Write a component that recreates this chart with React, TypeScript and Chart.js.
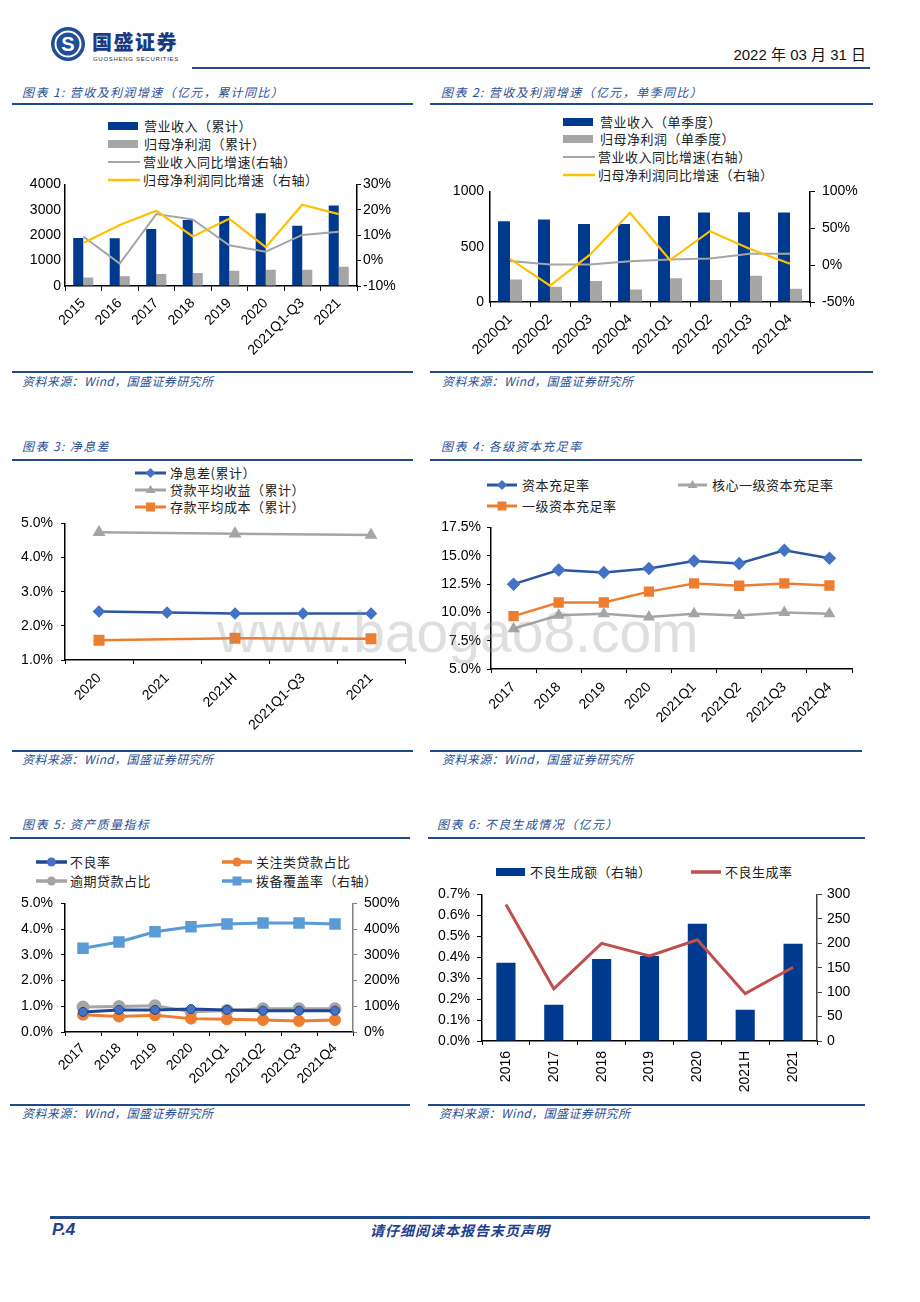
import React, { useEffect, useRef } from 'react';
import { Chart, registerables } from 'chart.js';

Chart.register(...registerables);

// ---------------- Data ----------------
const c1Categories = ['2015', '2016', '2017', '2018', '2019', '2020', '2021Q1-Q3', '2021'];
const c1Names = ['营业收入（累计）', '归母净利润（累计）', '营业收入同比增速(右轴）', '归母净利润同比增速（右轴）'];
const c1Revenue = [1885, 1880, 2245, 2595, 2755, 2860, 2372, 3167];
const c1Profit = [333, 385, 474, 513, 603, 641, 641, 756];
const c1RevenueGrowth = [9.5, -1.2, 18.3, 16.2, 6.0, 3.5, 10.1, 11.4];
const c1ProfitGrowth = [6.9, 14.0, 19.6, 9.5, 16.5, 5.3, 22.0, 18.3];

const c2Categories = ['2020Q1', '2020Q2', '2020Q3', '2020Q4', '2021Q1', '2021Q2', '2021Q3', '2021Q4'];
const c2Names = ['营业收入（单季度）', '归母净利润（单季度）', '营业收入同比增速(右轴）', '归母净利润同比增速（右轴）'];
const c2Revenue = [729, 746, 706, 706, 777, 809, 811, 809];
const c2Profit = [203, 137, 191, 114, 214, 200, 237, 120];
const c2RevenueGrowth = [5.6, 0.9, 0.9, 5.1, 7.7, 9.0, 15.4, 15.4];
const c2ProfitGrowth = [8.6, -27.9, 14.1, 71.0, 6.9, 46.0, 22.0, 2.0];

const c3Categories = ['2020', '2021', '2021H', '2021Q1-Q3', '2021'];
const c3Names = ['净息差(累计）', '贷款平均收益（累计）', '存款平均成本（累计）'];
const c3Nim = [2.42, 2.39, 2.36, 2.36, 2.36];
const c3LoanYield = [4.74, null, 4.70, null, 4.66];
const c3DepositCost = [1.58, null, 1.64, null, 1.62];

const c4Categories = ['2017', '2018', '2019', '2020', '2021Q1', '2021Q2', '2021Q3', '2021Q4'];
const c4Names = ['资本充足率', '核心一级资本充足率', '一级资本充足率'];
const c4Car = [12.49, 13.74, 13.51, 13.88, 14.54, 14.31, 15.48, 14.77];
const c4CoreTier1 = [8.56, 9.75, 9.87, 9.58, 9.87, 9.73, 9.98, 9.87];
const c4Tier1 = [9.67, 10.87, 10.87, 11.83, 12.55, 12.35, 12.55, 12.37];

const c5Categories = ['2017', '2018', '2019', '2020', '2021Q1', '2021Q2', '2021Q3', '2021Q4'];
const c5Names = ['不良率', '关注类贷款占比', '逾期贷款占比', '拨备覆盖率（右轴）'];
const c5Npl = [0.78, 0.86, 0.86, 0.89, 0.86, 0.83, 0.83, 0.83];
const c5SpecialMention = [0.67, 0.60, 0.65, 0.52, 0.50, 0.47, 0.43, 0.47];
const c5Overdue = [0.97, 0.99, 1.02, 0.79, 0.84, 0.90, 0.90, 0.90];
const c5Coverage = [326, 350, 390, 409, 420, 424, 424, 420];

const c6Categories = ['2016', '2017', '2018', '2019', '2020', '2021H', '2021'];
const c6Names = ['不良生成额（右轴）', '不良生成率'];
const c6Amount = [160, 74, 168, 174, 240, 64, 199];
const c6Rate = [0.652, 0.249, 0.466, 0.406, 0.483, 0.226, 0.352];

const chartTitles = [
  '图表 1: 营收及利润增速（亿元，累计同比）',
  '图表 2: 营收及利润增速（亿元，单季同比）',
  '图表 3: 净息差',
  '图表 4: 各级资本充足率',
  '图表 5: 资产质量指标',
  '图表 6: 不良生成情况（亿元）',
];
const sourceText = '资料来源：Wind，国盛证券研究所';

// ---------------- Styles ----------------
const NUM_FONT = '"Liberation Sans", Arial, Helvetica, sans-serif';
const CJK_FONT = '"Noto Sans CJK SC", "Noto Sans", sans-serif';
const NAVY = '#003A8F';
const GRAY = '#A6A6A6';
const YELLOW = '#FFC000';
const ORANGE = '#ED7D31';
const LIGHTBLUE = '#5B9BD5';
const RED = '#C0504D';
const MIDBLUE = '#4472C4';
const LINEBLUE = '#2A55A3';
const TITLE_BLUE = '#2B4F93';
const RULE_BLUE = '#1F4A8C';

const tickFont = { family: NUM_FONT, size: 14 };
const plain = (v: any) => `${v}`;
const pct0 = (v: any) => `${v}%`;
const pct1 = (v: any) => `${Number(v).toFixed(1)}%`;

function xScale(height: number, rotation: number, tickLen = 5, pad = 4) {
  return {
    type: 'category',
    offset: true,
    grid: { display: true, drawOnChartArea: false, drawTicks: true, tickLength: tickLen, color: '#000', offset: true },
    border: { display: true, color: '#000', width: 1.5 },
    ticks: { color: '#000', font: tickFont, minRotation: rotation, maxRotation: rotation, autoSkip: false, padding: pad },
    afterFit: (s: any) => { s.height = height; },
  };
}

function yScale(position: string, width: number, min: number, max: number, step: number, fmt: (v: any) => string, tickLen: number, pad: number, axisColor = '#000') {
  return {
    type: 'linear',
    position,
    min,
    max,
    grid: { display: true, drawOnChartArea: false, drawTicks: tickLen > 0, tickLength: tickLen, color: axisColor },
    border: { display: true, color: axisColor, width: 1.5 },
    ticks: { stepSize: step, color: '#000', font: tickFont, padding: pad, callback: fmt },
    afterFit: (s: any) => { s.width = width; },
  };
}

function baseOptions(padding: any, scales: any) {
  return {
    responsive: true,
    maintainAspectRatio: false,
    animation: false,
    events: [],
    layout: { padding },
    plugins: { legend: { display: false }, tooltip: { enabled: false } },
    scales,
  };
}

// ---------------- Components ----------------
function ChartBox({ left, top, width, height, config }: { left: number; top: number; width: number; height: number; config: () => any }) {
  const ref = useRef<HTMLCanvasElement | null>(null);
  useEffect(() => {
    if (!ref.current) return;
    const chart = new Chart(ref.current, config());
    return () => chart.destroy();
  }, []);
  return (
    <div style={{ position: 'absolute', left, top, width, height }}>
      <canvas ref={ref} />
    </div>
  );
}

type Marker = 'none' | 'diamond' | 'triangle' | 'square' | 'circle';

function Swatch({ x1, x2, y, kind, color, lw = 2.5, marker = 'none', mColor = '#000', mSize = 5 }: { x1: number; x2: number; y: number; kind: 'bar' | 'line'; color: string; lw?: number; marker?: Marker; mColor?: string; mSize?: number }) {
  const w = x2 - x1;
  const h = 16;
  const cx = w / 2;
  const cy = h / 2;
  let m: any = null;
  if (marker === 'diamond') m = <polygon points={`${cx - mSize},${cy} ${cx},${cy - mSize} ${cx + mSize},${cy} ${cx},${cy + mSize}`} fill={mColor} />;
  if (marker === 'triangle') m = <polygon points={`${cx - mSize},${cy + mSize * 0.6} ${cx + mSize},${cy + mSize * 0.6} ${cx},${cy - mSize}`} fill={mColor} />;
  if (marker === 'square') m = <rect x={cx - mSize} y={cy - mSize} width={mSize * 2} height={mSize * 2} fill={mColor} />;
  if (marker === 'circle') m = <circle cx={cx} cy={cy} r={mSize} fill={mColor} />;
  return (
    <svg style={{ position: 'absolute', left: x1, top: y - h / 2, overflow: 'visible' }} width={w} height={h}>
      {kind === 'bar' ? <rect x={0} y={cy - 4} width={w} height={8} fill={color} /> : <line x1={0} y1={cy} x2={w} y2={cy} stroke={color} strokeWidth={lw} />}
      {m}
    </svg>
  );
}

function LegendText({ x, y, text }: { x: number; y: number; text: string }) {
  return (
    <div style={{ position: 'absolute', left: x, top: y - 9, height: 18, lineHeight: '18px', fontSize: 13, letterSpacing: 0.5, color: '#222', whiteSpace: 'nowrap', fontFamily: CJK_FONT }}>
      {text}
    </div>
  );
}

function Rule({ x1, x2, y, t = 2 }: { x1: number; x2: number; y: number; t?: number }) {
  return <div style={{ position: 'absolute', left: x1, top: y - t / 2, width: x2 - x1, height: t, background: RULE_BLUE }} />;
}

function SectionTitle({ x, y, text }: { x: number; y: number; text: string }) {
  return (
    <div style={{ position: 'absolute', left: x, top: y - 8, height: 16, lineHeight: '16px', fontSize: 12, letterSpacing: 1.4, fontStyle: 'italic', color: TITLE_BLUE, whiteSpace: 'nowrap', fontFamily: CJK_FONT }}>
      {text}
    </div>
  );
}

function Source({ x, y }: { x: number; y: number }) {
  return (
    <div style={{ position: 'absolute', left: x, top: y - 8, height: 16, lineHeight: '16px', fontSize: 12, letterSpacing: 0.4, fontStyle: 'italic', color: TITLE_BLUE, whiteSpace: 'nowrap', fontFamily: CJK_FONT }}>
      {sourceText}
    </div>
  );
}

// ---------------- Chart configs ----------------
const chart1 = () => ({
  type: 'bar',
  data: {
    labels: c1Categories,
    datasets: [
      { type: 'bar', label: c1Names[0], data: c1Revenue, backgroundColor: NAVY, yAxisID: 'y', order: 2, categoryPercentage: 0.55, barPercentage: 1 },
      { type: 'bar', label: c1Names[1], data: c1Profit, backgroundColor: GRAY, yAxisID: 'y', order: 2, categoryPercentage: 0.55, barPercentage: 1 },
      { type: 'line', label: c1Names[2], data: c1RevenueGrowth, borderColor: GRAY, borderWidth: 2, pointRadius: 0, yAxisID: 'y1', order: 1 },
      { type: 'line', label: c1Names[3], data: c1ProfitGrowth, borderColor: YELLOW, borderWidth: 2.2, pointRadius: 0, yAxisID: 'y1', order: 0 },
    ],
  },
  options: baseOptions({ top: 10 }, {
    x: xScale(81, 45, 5, 4),
    y: yScale('left', 55, 0, 4000, 1000, plain, 0, 4),
    y1: yScale('right', 63, -10, 30, 10, pct0, 4, 2),
  }),
});

const chart2 = () => ({
  type: 'bar',
  data: {
    labels: c2Categories,
    datasets: [
      { type: 'bar', label: c2Names[0], data: c2Revenue, backgroundColor: NAVY, yAxisID: 'y', order: 2, categoryPercentage: 0.6, barPercentage: 1 },
      { type: 'bar', label: c2Names[1], data: c2Profit, backgroundColor: GRAY, yAxisID: 'y', order: 2, categoryPercentage: 0.6, barPercentage: 1 },
      { type: 'line', label: c2Names[2], data: c2RevenueGrowth, borderColor: GRAY, borderWidth: 2, pointRadius: 0, yAxisID: 'y1', order: 1 },
      { type: 'line', label: c2Names[3], data: c2ProfitGrowth, borderColor: YELLOW, borderWidth: 2.2, pointRadius: 0, yAxisID: 'y1', order: 0 },
    ],
  },
  options: baseOptions({ top: 10 }, {
    x: xScale(69, 45, 5, 4),
    y: yScale('left', 50, 0, 1000, 500, plain, 0, 6),
    y1: yScale('right', 60, -50, 100, 50, pct0, 5, 7),
  }),
});

const chart3 = () => ({
  type: 'line',
  data: {
    labels: c3Categories,
    datasets: [
      { label: c3Names[0], data: c3Nim, borderColor: LINEBLUE, borderWidth: 2.5, pointStyle: 'rectRot', pointRadius: 4.5, pointBackgroundColor: MIDBLUE, pointBorderColor: MIDBLUE, spanGaps: true },
      { label: c3Names[1], data: c3LoanYield, borderColor: '#A5A5A5', borderWidth: 2.5, pointStyle: 'triangle', pointRadius: 5, pointBackgroundColor: '#A5A5A5', pointBorderColor: '#A5A5A5', spanGaps: true },
      { label: c3Names[2], data: c3DepositCost, borderColor: ORANGE, borderWidth: 2.5, pointStyle: 'rect', pointRadius: 6, pointBackgroundColor: ORANGE, pointBorderColor: ORANGE, spanGaps: true },
    ],
  },
  options: baseOptions({ top: 10, right: 15 }, {
    x: xScale(87, 45, 4, 6),
    y: yScale('left', 55, 1, 5, 1, pct1, 4, 8),
  }),
});

const chart4 = () => ({
  type: 'line',
  data: {
    labels: c4Categories,
    datasets: [
      { label: c4Names[0], data: c4Car, borderColor: LINEBLUE, borderWidth: 2.5, pointStyle: 'rectRot', pointRadius: 5, pointBackgroundColor: MIDBLUE, pointBorderColor: MIDBLUE },
      { label: c4Names[1], data: c4CoreTier1, borderColor: '#A5A5A5', borderWidth: 2.5, pointStyle: 'triangle', pointRadius: 4.5, pointBackgroundColor: '#A5A5A5', pointBorderColor: '#A5A5A5' },
      { label: c4Names[2], data: c4Tier1, borderColor: ORANGE, borderWidth: 2.5, pointStyle: 'rect', pointRadius: 5.5, pointBackgroundColor: ORANGE, pointBorderColor: ORANGE },
    ],
  },
  options: baseOptions({ top: 10, right: 18 }, {
    x: xScale(79, 45, 4, 6),
    y: yScale('left', 51, 5, 17.5, 2.5, pct1, 4, 6),
  }),
});

const chart5 = () => ({
  type: 'line',
  data: {
    labels: c5Categories,
    datasets: [
      { label: c5Names[0], data: c5Npl, borderColor: '#1F4594', borderWidth: 3, pointStyle: 'circle', pointRadius: 4.5, pointBackgroundColor: MIDBLUE, pointBorderColor: '#1F4594', pointBorderWidth: 1, yAxisID: 'y' },
      { label: c5Names[1], data: c5SpecialMention, borderColor: ORANGE, borderWidth: 3, pointStyle: 'circle', pointRadius: 4.5, pointBackgroundColor: ORANGE, pointBorderColor: ORANGE, yAxisID: 'y' },
      { label: c5Names[2], data: c5Overdue, borderColor: '#A5A5A5', borderWidth: 3, pointStyle: 'circle', pointRadius: 5, pointBackgroundColor: '#A5A5A5', pointBorderColor: '#A5A5A5', yAxisID: 'y' },
      { label: c5Names[3], data: c5Coverage, borderColor: LIGHTBLUE, borderWidth: 3, pointStyle: 'rect', pointRadius: 6, pointBackgroundColor: LIGHTBLUE, pointBorderColor: LIGHTBLUE, yAxisID: 'y1' },
    ],
  },
  options: baseOptions({ top: 10 }, {
    x: xScale(65, 45, 4, 4),
    y: yScale('left', 55, 0, 5, 1, pct1, 4, 8),
    y1: yScale('right', 67, 0, 500, 100, pct0, 4, 7, '#808080'),
  }),
});

const chart6 = () => ({
  type: 'bar',
  data: {
    labels: c6Categories,
    datasets: [
      { type: 'bar', label: c6Names[0], data: c6Amount, backgroundColor: NAVY, yAxisID: 'y1', order: 1, categoryPercentage: 0.4, barPercentage: 1 },
      { type: 'line', label: c6Names[1], data: c6Rate, borderColor: RED, borderWidth: 3, pointRadius: 0, yAxisID: 'y', order: 0 },
    ],
  },
  options: baseOptions({ top: 10 }, {
    x: xScale(58, 90, 4, 6),
    y: yScale('left', 46, 0, 0.7, 0.1, pct1, 5, 7),
    y1: yScale('right', 53, 0, 300, 50, plain, 5, 5, '#404040'),
  }),
});

// ---------------- Page ----------------
function Header() {
  return (
    <>
      <svg style={{ position: 'absolute', left: 50, top: 26 }} width={36} height={36}>
        <circle cx={18} cy={18} r={17} fill="#1F4E9A" />
        <circle cx={18} cy={18} r={12.5} fill="none" stroke="#fff" strokeWidth={2} />
        <text x={18} y={25} textAnchor="middle" fontFamily={NUM_FONT} fontWeight="bold" fontSize={20} fill="#fff">S</text>
      </svg>
      <div style={{ position: 'absolute', left: 92, top: 30, fontSize: 20, lineHeight: '24px', fontWeight: 900, letterSpacing: 1.5, color: '#1B3A84', fontFamily: CJK_FONT, whiteSpace: 'nowrap' }}>国盛证券</div>
      <div style={{ position: 'absolute', left: 93, top: 55, fontSize: 6, lineHeight: '8px', letterSpacing: 0.7, color: '#333', fontFamily: NUM_FONT, whiteSpace: 'nowrap' }}>GUOSHENG SECURITIES</div>
      <div style={{ position: 'absolute', right: 54, top: 45, fontSize: 15, lineHeight: '20px', color: '#111', fontFamily: `${NUM_FONT}, ${CJK_FONT}`, whiteSpace: 'nowrap' }}>2022 年 03 月 31 日</div>
      <Rule x1={192} x2={870} y={68} t={2.5} />
    </>
  );
}

function Footer() {
  return (
    <>
      <Rule x1={50} x2={870} y={1217} t={3} />
      <div style={{ position: 'absolute', left: 52, top: 1220, fontSize: 17, lineHeight: '20px', fontWeight: 'bold', fontStyle: 'italic', color: '#1F3F8F', fontFamily: NUM_FONT }}>P.4</div>
      <div style={{ position: 'absolute', left: 300, width: 320, top: 1220, textAlign: 'center', fontSize: 14, lineHeight: '20px', fontWeight: 'bold', fontStyle: 'italic', letterSpacing: 1, color: '#1F3F8F', fontFamily: CJK_FONT }}>请仔细阅读本报告末页声明</div>
    </>
  );
}

export default function App() {
  return (
    <div style={{ position: 'absolute', left: 0, top: 0, width: 920, height: 1302, background: '#fff', overflow: 'hidden', fontFamily: CJK_FONT }}>
      <Header />

      {/* Chart 1 */}
      <SectionTitle x={22} y={92} text={chartTitles[0]} />
      <Rule x1={12} x2={413} y={104} />
      <Swatch x1={108} x2={138} y={126} kind="bar" color={NAVY} />
      <LegendText x={144} y={126} text={c1Names[0]} />
      <Swatch x1={108} x2={138} y={144} kind="bar" color={GRAY} />
      <LegendText x={144} y={144} text={c1Names[1]} />
      <Swatch x1={108} x2={140} y={162} kind="line" color={GRAY} lw={2} />
      <LegendText x={143} y={162} text={c1Names[2]} />
      <Swatch x1={108} x2={140} y={180} kind="line" color={YELLOW} lw={2.5} />
      <LegendText x={143} y={180} text={c1Names[3]} />
      <ChartBox left={10} top={172} width={410} height={195} config={chart1} />
      <Rule x1={12} x2={413} y={372} />
      <Source x={22} y={381} />

      {/* Chart 2 */}
      <SectionTitle x={441} y={92} text={chartTitles[1]} />
      <Rule x1={430} x2={873} y={104} />
      <Swatch x1={563} x2={593} y={122} kind="bar" color={NAVY} />
      <LegendText x={600} y={122} text={c2Names[0]} />
      <Swatch x1={563} x2={593} y={139} kind="bar" color={GRAY} />
      <LegendText x={600} y={139} text={c2Names[1]} />
      <Swatch x1={563} x2={595} y={157} kind="line" color={GRAY} lw={2} />
      <LegendText x={598} y={157} text={c2Names[2]} />
      <Swatch x1={563} x2={595} y={175} kind="line" color={YELLOW} lw={2.5} />
      <LegendText x={598} y={175} text={c2Names[3]} />
      <ChartBox left={440} top={176} width={430} height={195} config={chart2} />
      <Rule x1={430} x2={873} y={372} />
      <Source x={442} y={381} />

      {/* Chart 3 */}
      <SectionTitle x={22} y={446} text={chartTitles[2]} />
      <Rule x1={12} x2={413} y={460} />
      <Swatch x1={135} x2={166} y={473} kind="line" color={LINEBLUE} lw={3} marker="diamond" mColor={MIDBLUE} mSize={5} />
      <LegendText x={170} y={473} text={c3Names[0]} />
      <Swatch x1={135} x2={166} y={490} kind="line" color="#A5A5A5" lw={3} marker="triangle" mColor="#A5A5A5" mSize={5} />
      <LegendText x={170} y={490} text={c3Names[1]} />
      <Swatch x1={135} x2={166} y={507} kind="line" color={ORANGE} lw={3} marker="square" mColor={ORANGE} mSize={4.5} />
      <LegendText x={170} y={507} text={c3Names[2]} />
      <ChartBox left={10} top={507} width={410} height={240} config={chart3} />
      <Rule x1={12} x2={413} y={751} />
      <Source x={22} y={759} />

      {/* Chart 4 */}
      <SectionTitle x={441} y={446} text={chartTitles[3]} />
      <Rule x1={430} x2={862} y={460} />
      <Swatch x1={487} x2={517} y={485} kind="line" color={LINEBLUE} lw={3} marker="diamond" mColor={MIDBLUE} mSize={5} />
      <LegendText x={522} y={485} text={c4Names[0]} />
      <Swatch x1={678} x2={707} y={485} kind="line" color="#A5A5A5" lw={3} marker="triangle" mColor="#A5A5A5" mSize={5} />
      <LegendText x={712} y={485} text={c4Names[1]} />
      <Swatch x1={487} x2={517} y={506} kind="line" color={ORANGE} lw={3} marker="square" mColor={ORANGE} mSize={4.5} />
      <LegendText x={522} y={506} text={c4Names[2]} />
      <ChartBox left={440} top={513} width={430} height={235} config={chart4} />
      <Rule x1={430} x2={862} y={751} />
      <Source x={442} y={759} />

      {/* Chart 5 */}
      <SectionTitle x={22} y={824} text={chartTitles[4]} />
      <Rule x1={10} x2={410} y={838} />
      <Swatch x1={36} x2={67} y={862} kind="line" color="#1F4594" lw={3.5} marker="circle" mColor={MIDBLUE} mSize={4.5} />
      <LegendText x={70} y={862} text={c5Names[0]} />
      <Swatch x1={222} x2={252} y={862} kind="line" color={ORANGE} lw={3.5} marker="circle" mColor={ORANGE} mSize={4.5} />
      <LegendText x={256} y={862} text={c5Names[1]} />
      <Swatch x1={36} x2={67} y={881} kind="line" color="#A5A5A5" lw={3.5} marker="circle" mColor="#A5A5A5" mSize={4.5} />
      <LegendText x={70} y={881} text={c5Names[2]} />
      <Swatch x1={222} x2={252} y={881} kind="line" color={LIGHTBLUE} lw={3.5} marker="square" mColor={LIGHTBLUE} mSize={4.5} />
      <LegendText x={256} y={881} text={c5Names[3]} />
      <ChartBox left={10} top={887} width={410} height={210} config={chart5} />
      <Rule x1={10} x2={410} y={1105} />
      <Source x={22} y={1113} />

      {/* Chart 6 */}
      <SectionTitle x={437} y={824} text={chartTitles[5]} />
      <Rule x1={428} x2={865} y={838} />
      <Swatch x1={496} x2={525} y={872} kind="bar" color={NAVY} />
      <LegendText x={530} y={872} text={c6Names[0]} />
      <Swatch x1={691} x2={721} y={872} kind="line" color={RED} lw={3.5} />
      <LegendText x={725} y={872} text={c6Names[1]} />
      <ChartBox left={436} top={879} width={434} height={220} config={chart6} />
      <Rule x1={428} x2={865} y={1105} />
      <Source x={439} y={1113} />

      {/* watermark */}
      <div style={{ position: 'absolute', left: 217, top: 604, fontSize: 57, lineHeight: '57px', fontFamily: NUM_FONT, color: 'rgba(150,150,150,0.3)', whiteSpace: 'nowrap', pointerEvents: 'none' }}>www.baogao8.com</div>

      <Footer />
    </div>
  );
}
